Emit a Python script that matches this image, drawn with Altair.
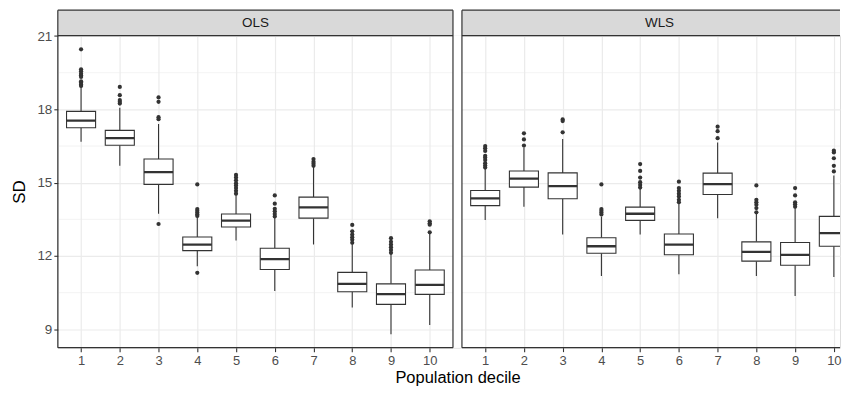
import altair as alt
import pandas as pd

deciles = [1, 2, 3, 4, 5, 6, 7, 8, 9, 10]
models = ["OLS", "WLS"]

ols_lo = [16.68, 15.69, 13.73, 11.58, 12.63, 10.57, 12.47, 9.89, 8.80, 9.18]
ols_q1 = [17.25, 16.53, 14.93, 12.22, 13.19, 11.45, 13.55, 10.54, 10.02, 10.43]
ols_med = [17.54, 16.82, 15.43, 12.47, 13.45, 11.87, 13.99, 10.86, 10.44, 10.82]
ols_q3 = [17.92, 17.14, 15.97, 12.78, 13.72, 12.32, 14.41, 11.33, 10.86, 11.43]
ols_hi = [18.92, 18.07, 17.40, 13.60, 14.50, 13.58, 15.66, 12.47, 12.09, 12.90]
ols_out = [
    [20.46, 19.64, 19.56, 19.46, 19.40, 19.33, 19.15, 19.10, 19.02, 18.96],
    [18.92, 18.58, 18.38, 18.31, 18.24],
    [18.49, 18.31, 17.68, 17.60, 13.31],
    [14.93, 13.92, 13.85, 13.78, 13.70, 13.64, 11.31],
    [15.32, 15.21, 15.10, 14.98, 14.89, 14.78, 14.67, 14.55],
    [14.48, 14.14, 13.93, 13.83, 13.72, 13.62],
    [15.97, 15.86, 15.78, 15.69],
    [13.27, 13.01, 12.88, 12.77, 12.67, 12.54],
    [12.73, 12.58, 12.47, 12.36, 12.25, 12.13],
    [13.42, 13.34, 13.28, 12.97],
]

wls_lo = [13.47, 14.02, 12.88, 11.18, 12.88, 11.25, 13.55, 11.18, 10.36, 11.14]
wls_q1 = [14.06, 14.82, 14.34, 12.11, 13.46, 12.05, 14.52, 11.79, 11.62, 12.40]
wls_med = [14.36, 15.17, 14.86, 12.40, 13.73, 12.47, 14.94, 12.17, 12.05, 12.94]
wls_q3 = [14.68, 15.48, 15.40, 12.75, 14.00, 12.90, 15.39, 12.58, 12.55, 13.62]
wls_hi = [15.59, 16.43, 16.79, 13.62, 14.75, 14.17, 16.64, 13.73, 13.96, 15.29]
wls_out = [
    [16.50, 16.41, 16.30, 16.10, 16.03, 15.93, 15.80, 15.70, 15.62],
    [17.02, 16.77, 16.52],
    [17.59, 17.52, 17.06],
    [14.93, 13.92, 13.85, 13.78, 13.70],
    [15.76, 15.48, 15.21, 15.02, 14.91, 14.80],
    [15.04, 14.78, 14.67, 14.55, 14.44, 14.30, 14.20],
    [17.29, 17.11, 16.82],
    [14.89, 14.30, 14.20, 14.10, 13.96, 13.79],
    [14.78, 14.48, 14.20, 14.12, 14.02],
    [16.31, 16.24, 16.00, 15.69, 15.46],
]

y_ticks = [9, 12, 15, 18, 21]
y_minor = [10.5, 13.5, 16.5, 19.5]

# ---- layout (two facet panels drawn on one shared x scale) ----
STEP = 38.88                 # pixels per decile
VIEW_W = 785.0               # left panel + gap + visible part of right panel
H = 313.2
STRIP = 25.5
Y_DOMAIN = [8.25, 21.02]
X_LO = 0.4
X_HI = X_LO + VIEW_W / STEP
PANEL_SPAN = 10.2            # 10 deciles + 0.6 expansion each side
GAP = 9 / STEP               # 9 px between panels
OFFSET = PANEL_SPAN + GAP    # shift of the WLS panel along x
BOX_HALF = 0.375

DARK = "#333333"
GRID = "#EBEBEB"
FONT = "Liberation Sans"

stats_rows = []
for m, off, lo, q1, med, q3, hi in [
    ("OLS", 0.0, ols_lo, ols_q1, ols_med, ols_q3, ols_hi),
    ("WLS", OFFSET, wls_lo, wls_q1, wls_med, wls_q3, wls_hi),
]:
    for i, d in enumerate(deciles):
        stats_rows.append({"model": m, "decile": d, "pos": d + off, "lo": lo[i],
                           "q1": q1[i], "med": med[i], "q3": q3[i], "hi": hi[i]})
stats = pd.DataFrame(stats_rows)

out_rows = []
for m, off, outs in [("OLS", 0.0, ols_out), ("WLS", OFFSET, wls_out)]:
    for d, vals in zip(deciles, outs):
        for v in vals:
            out_rows.append({"model": m, "pos": d + off, "value": v})
outliers = pd.DataFrame(out_rows)

panels = pd.DataFrame({
    "model": models,
    "x0": [X_LO, X_LO + OFFSET],
    "x1": [X_LO + PANEL_SPAN, X_HI],
    "mid": [X_LO + PANEL_SPAN / 2, X_LO + OFFSET + PANEL_SPAN / 2],
})
left_edges = pd.DataFrame({"x": [X_LO, X_LO + PANEL_SPAN, X_LO + OFFSET]})
gap = pd.DataFrame({"g0": [X_LO + PANEL_SPAN], "g1": [X_LO + OFFSET]})
minor_df = pd.DataFrame({"v": y_minor})

all_pos = [d for d in deciles] + [round(d + OFFSET, 4) for d in deciles]

xscale = alt.Scale(domain=[X_LO, X_HI], nice=False, zero=False)
yscale = alt.Scale(domain=Y_DOMAIN, nice=False, zero=False)

xaxis = alt.Axis(
    values=all_pos,
    labelExpr=f"datum.value > {X_LO + PANEL_SPAN} ? format(round(datum.value - {OFFSET}), 'd') : format(round(datum.value), 'd')",
    title="Population decile", titleX=401.1, titleY=35, titleBaseline="alphabetic",
    titleAlign="center", titleFont=FONT, titleFontSize=16.5, titleFontWeight="normal",
    titleColor="black",
    grid=True, gridColor=GRID, gridWidth=1.2, domain=False,
    tickColor=DARK, tickSize=4, tickWidth=1.1, labelFlush=False,
    labelColor="#4D4D4D", labelFontSize=13, labelPadding=3, labelFont=FONT,
)
yaxis = alt.Axis(
    values=y_ticks, title="SD", grid=True, gridColor=GRID, gridWidth=1.2,
    domain=False, tickColor=DARK, tickSize=4, tickWidth=1.1,
    labelColor="#4D4D4D", labelFontSize=13.5, labelPadding=2, labelFont=FONT,
    titleFont=FONT, titleFontSize=17, titleFontWeight="normal",
    titleColor="black", titlePadding=8,
)

minor = alt.Chart(minor_df).mark_rule(color=GRID, strokeWidth=0.6).encode(
    y=alt.Y("v:Q", scale=yscale, axis=yaxis)
)
gap_cover = alt.Chart(gap).mark_rect(fill="white", strokeWidth=0).encode(
    x=alt.X("g0:Q", scale=xscale, axis=xaxis), x2="g1:Q",
    y=alt.value(0), y2=alt.value(H)
)

base = alt.Chart(stats).transform_calculate(
    left=f"datum.pos - {BOX_HALF}", right=f"datum.pos + {BOX_HALF}"
)
whisk_lo = base.mark_rule(color=DARK, strokeWidth=1.1, clip=True).encode(
    x="pos:Q", y="lo:Q", y2="q1:Q"
)
whisk_hi = base.mark_rule(color=DARK, strokeWidth=1.1, clip=True).encode(
    x="pos:Q", y="q3:Q", y2="hi:Q"
)
box = base.mark_rect(fill="white", stroke=DARK, strokeWidth=1.1, clip=True).encode(
    x="left:Q", x2="right:Q", y="q1:Q", y2="q3:Q"
)
median = base.mark_rule(color=DARK, strokeWidth=2.3, clip=True).encode(
    x="left:Q", x2="right:Q", y="med:Q"
)
points = alt.Chart(outliers).mark_circle(color=DARK, opacity=1, size=18, clip=True).encode(
    x="pos:Q", y="value:Q"
)

strip_fill = alt.Chart(panels).mark_rect(fill="#D9D9D9", strokeWidth=0).encode(
    x="x0:Q", x2="x1:Q", y=alt.value(-STRIP), y2=alt.value(0)
)
line_top = alt.Chart(panels).mark_rule(color=DARK, strokeWidth=1.2).encode(
    x="x0:Q", x2="x1:Q", y=alt.value(-STRIP)
)
line_mid = alt.Chart(panels).mark_rule(color=DARK, strokeWidth=1.2).encode(
    x="x0:Q", x2="x1:Q", y=alt.value(0)
)
line_bot = alt.Chart(panels).mark_rule(color=DARK, strokeWidth=1.2).encode(
    x="x0:Q", x2="x1:Q", y=alt.value(H)
)
line_side = alt.Chart(left_edges).mark_rule(color=DARK, strokeWidth=1.2).encode(
    x="x:Q", y=alt.value(-STRIP), y2=alt.value(H)
)
strip_text = alt.Chart(panels).mark_text(
    font=FONT, fontSize=13.5, color="#1A1A1A", baseline="middle"
).encode(text="model:N", x="mid:Q", y=alt.value(-12.6))

chart = alt.layer(
    minor, gap_cover, whisk_lo, whisk_hi, box, median, points,
    strip_fill, line_top, line_mid, line_bot, line_side, strip_text,
).properties(
    width=VIEW_W, height=H,
    padding={"left": 2, "top": 0, "right": 0, "bottom": 0},
).configure_view(strokeWidth=0).configure(background="white")

chart.save("out.html", embed_options={"renderer": "svg", "actions": False})
